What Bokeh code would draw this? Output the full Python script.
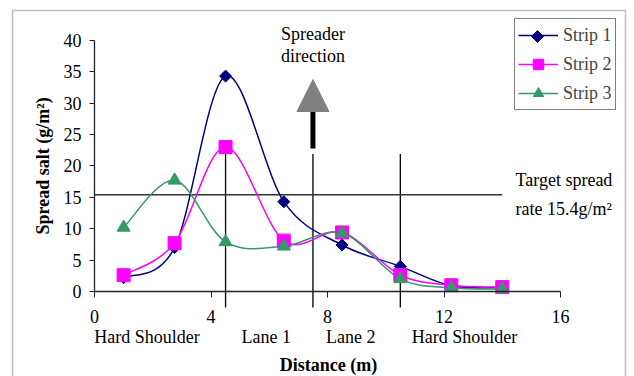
import numpy as np
from bokeh.plotting import figure
from bokeh.models import (Range1d, FixedTicker, Label, Legend, LegendItem,
                          PolyAnnotation)
from bokeh.embed import file_html
from bokeh.resources import INLINE

# ---------------- data ----------------
distance = [1.0, 2.75, 4.5, 6.5, 8.5, 10.5, 12.25, 14.0]
strip1 = [2.2, 7.0, 34.3, 14.3, 7.4, 4.0, 0.9, 0.6]
strip2 = [2.6, 7.7, 23.0, 8.1, 9.4, 2.6, 1.0, 0.7]
strip3 = [10.2, 17.7, 7.9, 7.2, 9.3, 2.0, 0.6, 0.4]
series_names = ["Strip 1", "Strip 2", "Strip 3"]
x_ticks = [0, 4, 8, 12, 16]
y_ticks = [0, 5, 10, 15, 20, 25, 30, 35, 40]
target_rate = 15.4
target_end = 14.0
lane_edges = [4.5, 7.5, 10.5]
lane_edge_top = [22.4, 21.9, 21.9]
lane_names = ["Hard Shoulder", "Lane 1", "Lane 2", "Hard Shoulder"]
lane_label_x = [1.8, 5.9, 8.8, 12.7]

FONT = "Liberation Serif"
colors = ["#000080", "#FF00FF", "#339966"]

# ---------------- layout (frame = whole canvas) ----------------
W, H = 634, 376
X0_PX, Y0_PX = 94.0, 291.0      # pixel position of the data origin
XPX, YPX = 29.125, 6.28         # pixels per data unit


def X(px):
    return (px - X0_PX) / XPX


def Y(py):
    return (Y0_PX - py) / YPX


p = figure(width=W, height=H, output_backend="svg", toolbar_location=None,
           x_range=Range1d(X(0), X(W)), y_range=Range1d(Y(H), Y(0)),
           min_border=0, min_border_left=0, min_border_right=0,
           min_border_top=0, min_border_bottom=0)
p.outline_line_color = None
p.xgrid.visible = False
p.ygrid.visible = False
p.background_fill_color = "white"
p.border_fill_color = "white"

# axes (fixed at the origin, bounded to the data extent)
xa = p.xaxis[0]
xa.fixed_location = 0
xa.bounds = (0, 16)
xa.ticker = FixedTicker(ticks=x_ticks)
xa.minor_tick_line_color = None
xa.major_tick_out = 6
xa.major_tick_in = 0
xa.major_label_standoff = 12
xa.axis_line_color = "#222222"
xa.axis_line_width = 1.3
xa.major_tick_line_color = "#222222"
xa.major_label_text_font = FONT
xa.major_label_text_font_size = "18px"
xa.major_label_text_color = "black"

ya = p.yaxis[0]
ya.fixed_location = 0
ya.bounds = (0, 40)
ya.ticker = FixedTicker(ticks=y_ticks)
ya.minor_tick_line_color = None
ya.major_tick_out = 5
ya.major_tick_in = 0
ya.major_label_standoff = 8
ya.axis_line_color = "#222222"
ya.axis_line_width = 1.3
ya.major_tick_line_color = "#222222"
ya.major_label_text_font = FONT
ya.major_label_text_font_size = "18px"
ya.major_label_text_color = "black"

# outer chart border
p.add_layout(PolyAnnotation(xs=[X(12), X(12), X(625), X(625)],
                            ys=[Y(H + 40), Y(10), Y(10), Y(H + 40)],
                            fill_alpha=0, line_color="#333333", line_width=1.5))

# reference lines
p.segment(x0=lane_edges, y0=[Y(307)] * 3, x1=lane_edges, y1=lane_edge_top,
          line_color="black", line_width=1.3)
p.segment(x0=[0], y0=[target_rate], x1=[target_end], y1=[target_rate],
          line_color="#333333", line_width=1.5)

# spreader direction arrow
ax = lane_edges[1]
p.segment(x0=[ax], y0=[Y(148)], x1=[ax], y1=[Y(110)], line_color="black", line_width=5)
hw = 16 / XPX
p.patch(x=[ax - hw, ax + hw, ax], y=[Y(111), Y(111), Y(79)],
        fill_color="#808080", line_color="#808080")


def smooth(xs, ys):
    P = np.column_stack([xs, ys]).astype(float)
    Pm = np.vstack([P[0], P, P[-1]])
    out = {k: [] for k in ["x0", "y0", "x1", "y1", "cx0", "cy0", "cx1", "cy1"]}
    for i in range(len(P) - 1):
        p0, p1, p2, p3 = Pm[i], Pm[i + 1], Pm[i + 2], Pm[i + 3]
        c1 = p1 + (p2 - p0) / 6.0
        c2 = p2 - (p3 - p1) / 6.0
        out["x0"].append(p1[0]); out["y0"].append(p1[1])
        out["x1"].append(p2[0]); out["y1"].append(p2[1])
        out["cx0"].append(c1[0]); out["cy0"].append(c1[1])
        out["cx1"].append(c2[0]); out["cy1"].append(c2[1])
    return out


series = [strip1, strip2, strip3]
for ys, c in zip(series, colors):
    b = smooth(distance, ys)
    p.bezier(line_color=c, line_width=1.5, **b)

markers = [dict(marker="square", size=8.5, angle=np.pi / 4),
           dict(marker="square", size=13, angle=0),
           dict(marker="triangle", size=13, angle=0)]
items = []
for i, (ys, c, m, name) in enumerate(zip(series, colors, markers, series_names)):
    sr = p.scatter(distance, ys, marker=m["marker"], size=m["size"], angle=m["angle"],
                   fill_color=c, line_color=c)
    lr = p.line(x=np.array([np.nan]), y=np.array([np.nan]), line_color=c, line_width=1.5)
    # legend glyphs cannot be rotated, so the diamond of Strip 1 is overlaid below
    items.append(LegendItem(label=name, renderers=[lr] if i == 0 else [lr, sr]))

LEG_LEFT, LEG_TOP = 514, 20
legend = Legend(items=items, location=(LEG_LEFT, H - LEG_TOP - 90), glyph_width=40,
                glyph_height=26, label_height=26, spacing=3, padding=3, margin=0,
                label_standoff=5, label_text_font=FONT, label_text_font_size="18px",
                border_line_color="black", border_line_width=1,
                background_fill_alpha=0)
p.add_layout(legend)
# diamond key for Strip 1, centred on its legend glyph
p.scatter(x=[X(LEG_LEFT + 3 + 20)], y=[Y(LEG_TOP + 3 + 13)], marker="square",
          size=8.5, angle=np.pi / 4, fill_color=colors[0], line_color=colors[0])


def lab(x, y, text, align="left", bold=False, angle=0):
    p.add_layout(Label(x=x, y=y, text=text, text_font=FONT, text_font_size="18px",
                       text_align=align, text_baseline="middle", angle=angle,
                       text_font_style="bold" if bold else "normal",
                       text_color="black"))


lab(ax, Y(33), "Spreader", align="center")
lab(ax, Y(55), "direction", align="center")
lab(X(515), Y(179), "Target spread")
lab(X(515), Y(208), "rate 15.4g/m\u00b2")
for lx, name in zip(lane_label_x, lane_names):
    lab(lx, Y(336), name, align="center")
lab(X(328), Y(364), "Distance (m)", align="center", bold=True)
lab(X(42), 20, "Spread salt (g/m\u00b2)", align="center", bold=True, angle=np.pi / 2)

open("out.html", "w").write(file_html(p, INLINE))
